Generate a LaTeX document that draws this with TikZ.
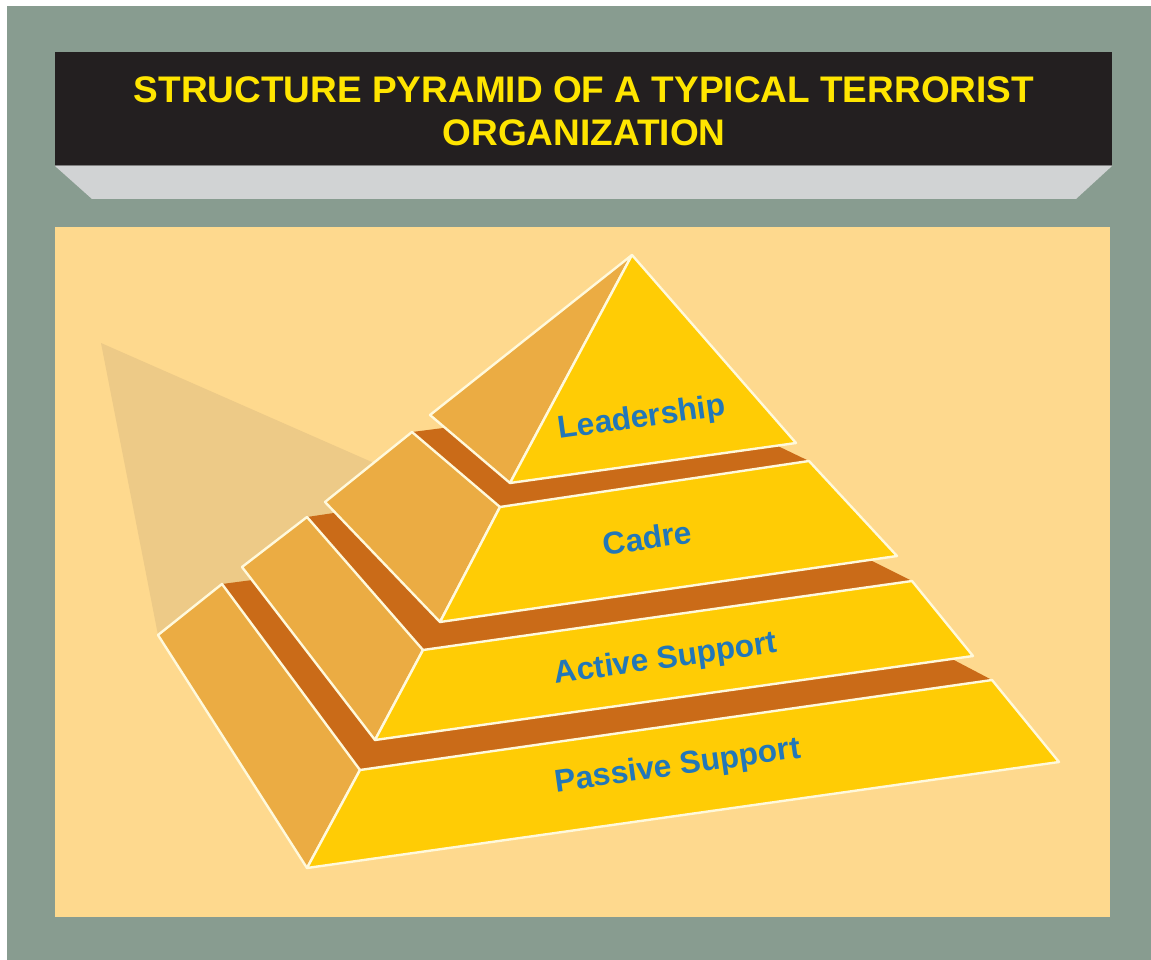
\documentclass[tikz,border=0pt]{standalone}
\usepackage{fontspec}
\setmainfont{Liberation Sans}
\usetikzlibrary{calc}
\definecolor{outerframe}{HTML}{889C90}
\definecolor{panel}{HTML}{FED98E}
\definecolor{shadowtone}{HTML}{EDCA87}
\definecolor{pyrside}{HTML}{EBAC43}
\definecolor{pyrfront}{HTML}{FFCC05}
\definecolor{pyrledge}{HTML}{CA6B18}
\definecolor{rim}{HTML}{FFF9DC}
\definecolor{tierblue}{HTML}{2277B8}
\definecolor{titleyellow}{HTML}{FFE500}
\definecolor{titleband}{HTML}{231F20}
\definecolor{bevel}{HTML}{D1D3D4}

\begin{document}
\begin{tikzpicture}[x=1pt, y=-1pt,
    sideface/.style={draw=rim, fill=pyrside, line width=2.4pt, line join=round},
    frontface/.style={draw=rim, fill=pyrfront, line width=2.4pt, line join=round},
    ledgeface/.style={fill=pyrledge},
    tiertext/.style={text=tierblue, font=\fontsize{31.6}{32}\selectfont\bfseries, anchor=base, rotate=8, inner sep=0pt},
    titletext/.style={text=titleyellow, font=\fontsize{37}{37}\selectfont\bfseries, anchor=base, inner sep=0pt}]
    \useasboundingbox (0,0) rectangle (1151,960);
    % frame and heading
    \fill[white] (0,0) rectangle (1151,960);
    \fill[outerframe] (7,6) rectangle (1151,960);
    \fill[titleband] (55,52) rectangle (1112,166);
    \fill[bevel] (55,166) -- (1112,166) -- (1076,199) -- (92,199) -- cycle;
    \draw[gray, line width=1pt] (55,166) -- (1112,166);
    \node[titletext] (title1) at (584,103) {STRUCTURE PYRAMID OF A TYPICAL TERRORIST};
    \node[titletext] (title2) at (584,146) {ORGANIZATION};
    \fill[panel] (55,227) rectangle (1110,917);
    % shadow behind the pyramid
    \fill[shadowtone] (101,343) -- (440,492) -- (300,700) -- (158,635) -- cycle;
    % tiers: bl = back-left foot, l = back-left top, f = front-left top,
    % fb = front-left foot, r = front-right top, rb = front-right foot, b = hidden back
    \coordinate (t4-bl) at (158,635); \coordinate (t4-l) at (222,584); \coordinate (t4-f) at (360,770);
    \coordinate (t4-fb) at (307,868); \coordinate (t4-r) at (992,680); \coordinate (t4-rb) at (1059,762);
    \coordinate (t4-b) at (691,522);
    \coordinate (t3-bl) at (242,567); \coordinate (t3-l) at (307,517); \coordinate (t3-f) at (423,650);
    \coordinate (t3-fb) at (375,740); \coordinate (t3-r) at (912,581); \coordinate (t3-rb) at (973,656);
    \coordinate (t3-b) at (675,462);
    \coordinate (t2-bl) at (325,502); \coordinate (t2-l) at (412,432); \coordinate (t2-f) at (500,507);
    \coordinate (t2-fb) at (440,622); \coordinate (t2-r) at (809,461); \coordinate (t2-rb) at (897,556);
    \coordinate (t2-b) at (678,398);
    \foreach \t in {4,3,2} {
        \fill[ledgeface] (t\t-l) -- (t\t-f) -- (t\t-r) -- (t\t-b) -- cycle;
        \draw[sideface] (t\t-bl) -- (t\t-l) -- (t\t-f) -- (t\t-fb) -- cycle;
        \draw[frontface] (t\t-f) -- (t\t-r) -- (t\t-rb) -- (t\t-fb) -- cycle;
    }
    % top of the pyramid
    \coordinate (apex) at (632,255);
    \coordinate (t1-bl) at (430,415); \coordinate (t1-fb) at (510,483); \coordinate (t1-rb) at (796,443);
    \draw[sideface] (t1-bl) -- (apex) -- (t1-fb) -- cycle;
    \draw[frontface] (t1-fb) -- (apex) -- (t1-rb) -- cycle;
    % tier names
    \node[tiertext] (leadership) at (643,427) {Leadership};
    \node[tiertext] (cadre) at (649,549) {Cadre};
    \node[tiertext] (active) at (667,668) {Active Support};
    \node[tiertext] (passive) at (679,775) {Passive Support};
\end{tikzpicture}
\end{document}
